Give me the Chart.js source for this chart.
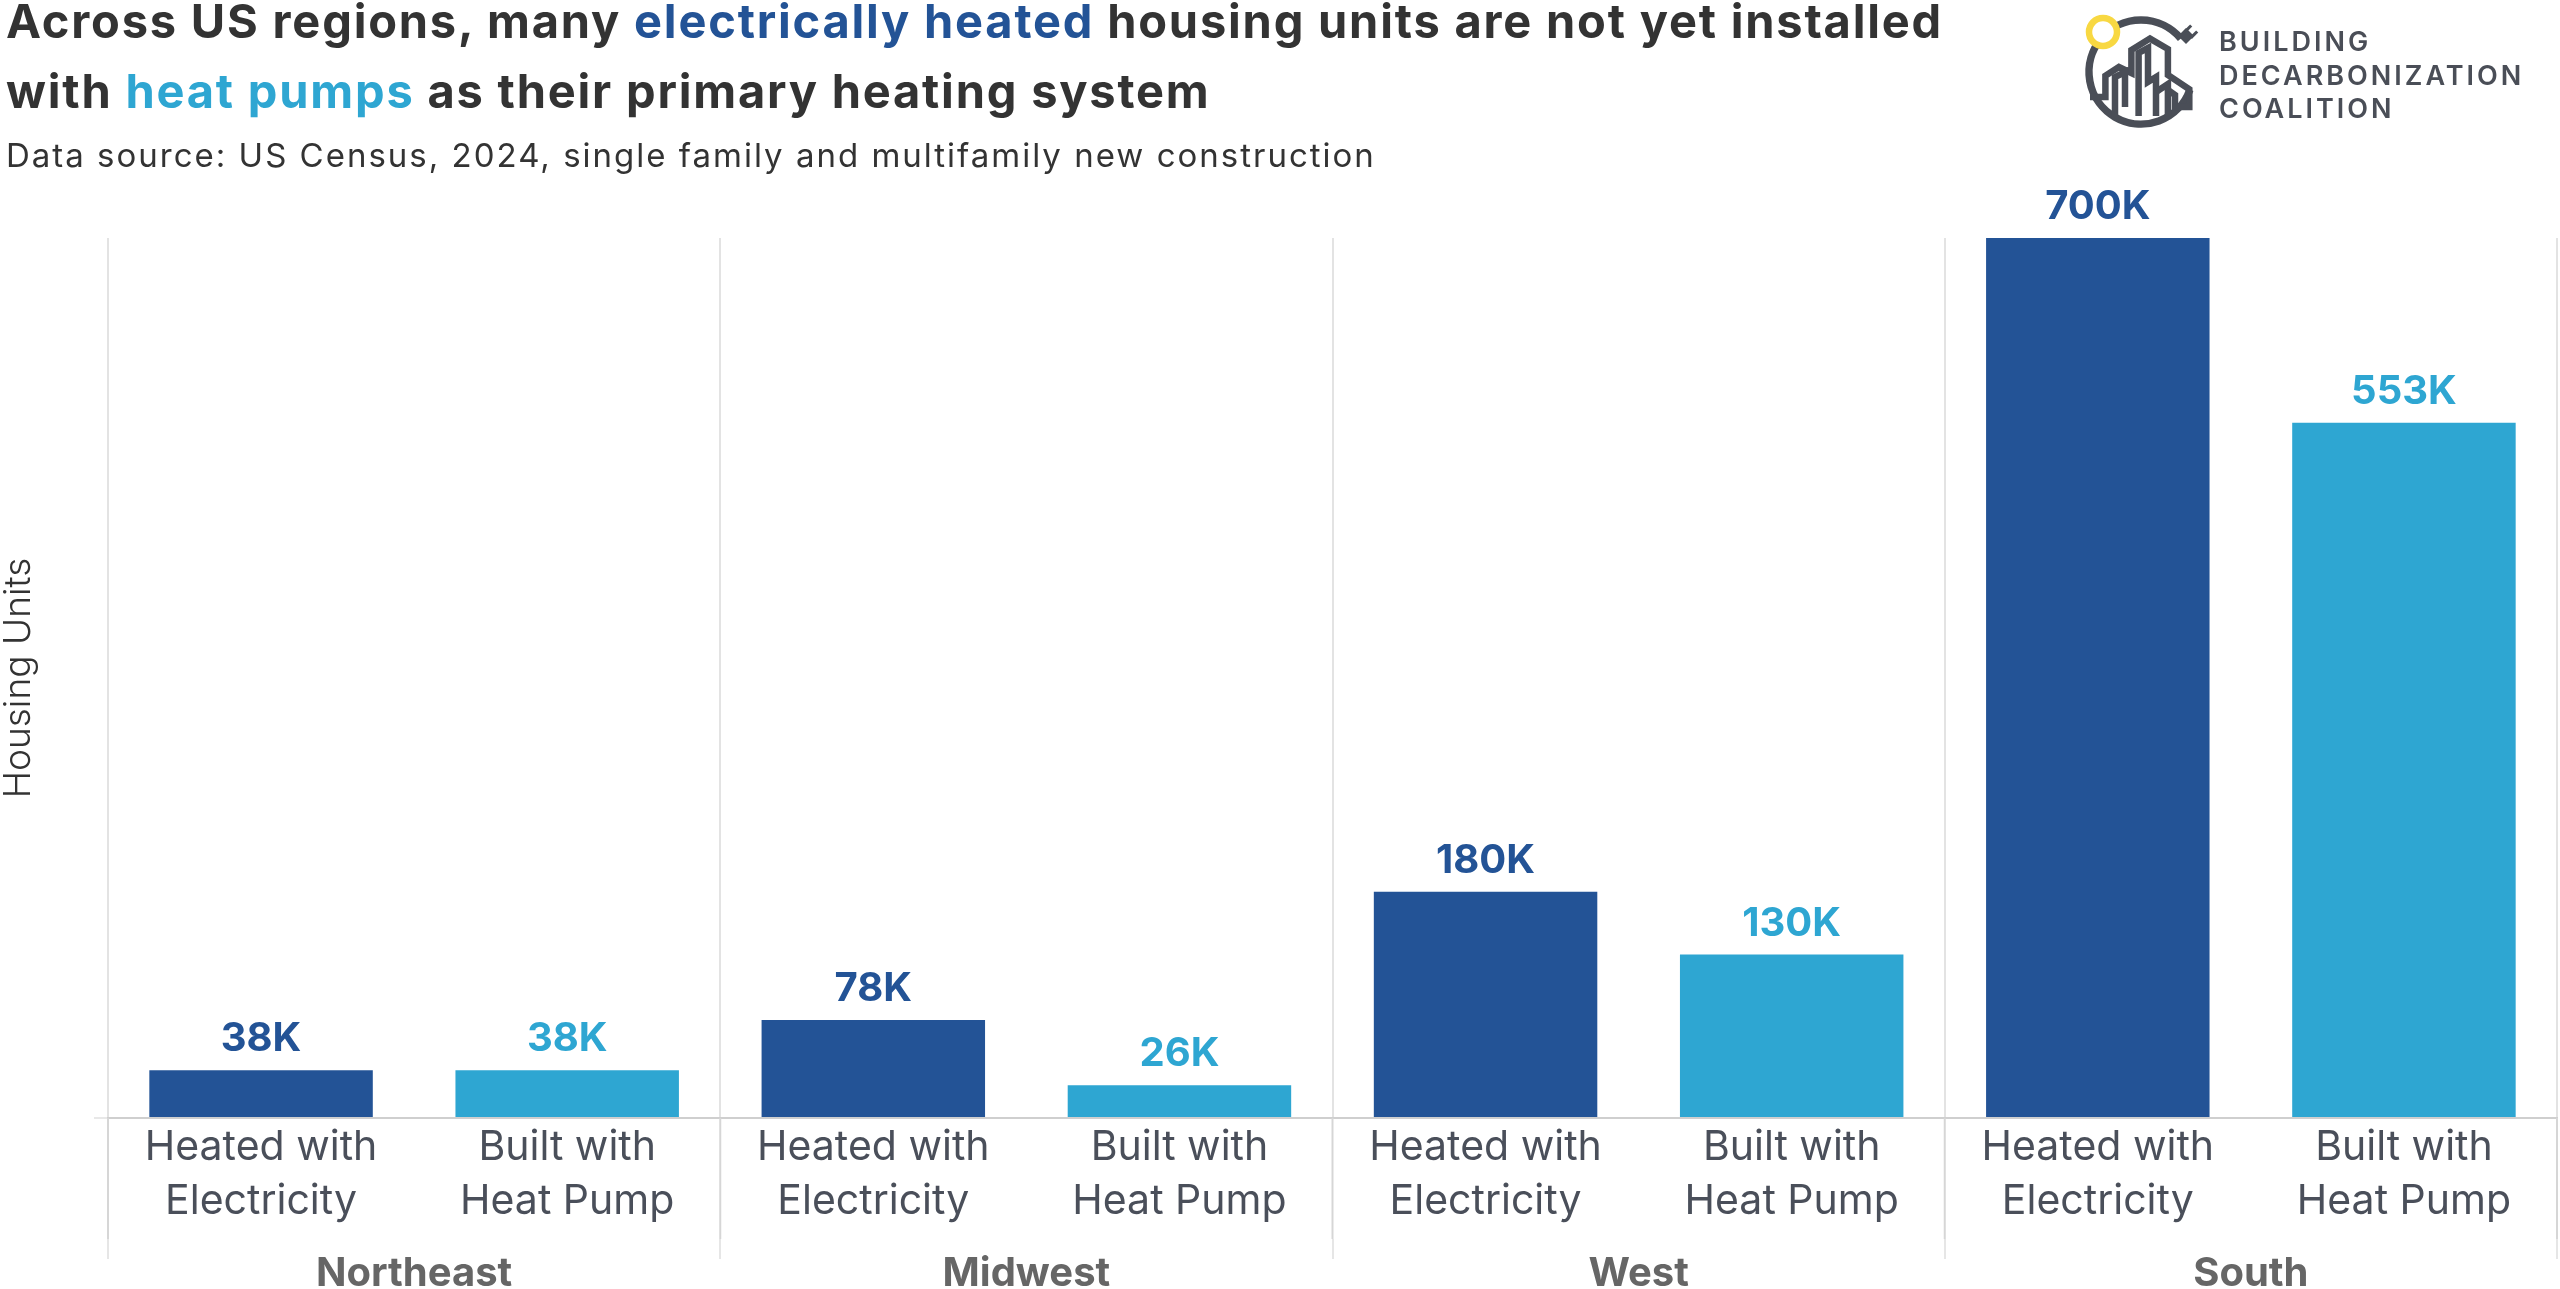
<!DOCTYPE html>
<html>
<head>
<meta charset="utf-8">
<script src="https://cdn.jsdelivr.net/npm/chart.js@4.4.1/dist/chart.umd.min.js"></script>
<style>
html,body{margin:0;padding:0;background:#fff;width:2560px;height:1289px;overflow:hidden;}
#wrap{position:relative;width:2560px;height:1289px;}
#chart{position:absolute;left:0;top:0;}
#title{position:absolute;left:6px;top:-14px;font-family:Inter,sans-serif;font-weight:700;font-size:47px;line-height:70px;color:#333333;white-space:nowrap;letter-spacing:1.8px;}
#title .dk{color:#235396;}
#title .lt{color:#2ea6d2;}
#subtitle{position:absolute;left:6px;top:135px;font-family:Inter,sans-serif;font-weight:400;font-size:33px;line-height:40px;color:#333333;white-space:nowrap;letter-spacing:2px;}
#logo{position:absolute;left:2070px;top:0px;}
#logotext{position:absolute;left:2219px;top:0px;font-family:Inter,sans-serif;font-weight:600;font-size:27px;letter-spacing:3px;color:#4a4e57;}
#logotext div{position:absolute;left:0;white-space:nowrap;line-height:30px;}
</style>
</head>
<body>
<div id="wrap">
<canvas id="chart" width="2560" height="1289"></canvas>
<div id="title">Across US regions, many <span class="dk">electrically heated</span> housing units are not yet installed<br>with <span class="lt">heat pumps</span> as their primary heating system</div>
<div id="subtitle">Data source: US Census, 2024, single family and multifamily new construction</div>
<svg id="logo" width="130" height="140" viewBox="0 0 130 140">
  <path d="M 119.9 89.8 A 52 52 0 1 1 110.8 38.6" fill="none" stroke="#4a4e57" stroke-width="7.5"/>
  <circle cx="33" cy="32" r="14" fill="#ffffff" stroke="#f8d842" stroke-width="6.5"/>
  <g fill="#4a4e57">
    <path d="M 108 36 l 8 -8 l 8 8 l -8 8 z"/>
    <rect x="117" y="24" width="3" height="9" transform="rotate(45 118 28)"/>
    <rect x="123" y="30" width="3" height="9" transform="rotate(45 124 34)"/>
  </g>
  <g fill="none" stroke="#4a4e57" stroke-width="6.5" stroke-linejoin="miter">
    <path d="M 20 97 H 35.4 V 75.7 L 48.9 67 L 61.4 73 V 50 L 80 38.6 L 97.9 49 V 75 L 119.3 89.3 V 107 H 105 V 95 L 97.9 90"/>
    <path d="M 45 116 V 77 L 55 72 V 107"/>
    <path d="M 68.6 116 V 53 L 78 48 V 82 L 86 77 V 116"/>
    <path d="M 86 92 L 97.9 84 V 116"/>
  </g>
</svg>
<div id="logotext">
  <div style="top:27px">BUILDING</div>
  <div style="top:61px">DECARBONIZATION</div>
  <div style="top:94px">COALITION</div>
</div>
</div>
<script>
// ---- data ----
const regions = ['Northeast', 'Midwest', 'West', 'South'];
const barTypes = [['Heated with', 'Electricity'], ['Built with', 'Heat Pump']];
const heatedWithElectricity = [38000, 78000, 180000, 700000];
const builtWithHeatPump = [38000, 26000, 130000, 553000];
const heatedLabels = ['38K', '78K', '180K', '700K'];
const heatPumpLabels = ['38K', '26K', '130K', '553K'];
const yAxisTitle = 'Housing Units';
const yMax = 700000;
const yStep = 155000;

const darkBlue = '#235396';
const lightBlue = '#2ea6d2';

// build interleaved categories from the arrays
const categories = [];
const values = [];
const colors = [];
const valueTexts = [];
regions.forEach((r, i) => {
  categories.push(barTypes[0]); values.push(heatedWithElectricity[i]); colors.push(darkBlue); valueTexts.push(heatedLabels[i]);
  categories.push(barTypes[1]); values.push(builtWithHeatPump[i]); colors.push(lightBlue); valueTexts.push(heatPumpLabels[i]);
});

const valueLabelPlugin = {
  id: 'valueLabels',
  afterDatasetsDraw(chart) {
    const ctx = chart.ctx;
    const meta = chart.getDatasetMeta(0);
    ctx.save();
    ctx.font = '700 40px Inter';
    ctx.textAlign = 'center';
    ctx.textBaseline = 'alphabetic';
    meta.data.forEach((bar, i) => {
      ctx.fillStyle = colors[i];
      ctx.fillText(valueTexts[i], bar.x, bar.y - 19);
    });
    ctx.restore();
  }
};

// extends the group separators through the category-label band of the x axis
const groupSeparatorPlugin = {
  id: 'groupSeparators',
  afterDraw(chart) {
    const xs = chart.scales.x;
    const ctx = chart.ctx;
    const n = categories.length;
    ctx.save();
    ctx.strokeStyle = '#d6d6d6';
    ctx.lineWidth = 2;
    for (let i = 0; i <= n; i += 2) {
      let px;
      if (i === 0) px = xs.left;
      else if (i === n) px = xs.right;
      else px = (xs.getPixelForValue(i - 1) + xs.getPixelForValue(i)) / 2;
      ctx.beginPath();
      ctx.moveTo(px, xs.top);
      ctx.lineTo(px, xs.bottom);
      ctx.stroke();
    }
    ctx.restore();
  }
};

const sepColor = (ctx) => (ctx.index === undefined || ctx.index % 2 === 0) ? '#e3e3e3' : 'rgba(0,0,0,0)';

new Chart(document.getElementById('chart'), {
  type: 'bar',
  data: {
    labels: categories,
    datasets: [{
      data: values,
      backgroundColor: colors,
      borderWidth: 0,
      barPercentage: 0.73,
      categoryPercentage: 1.0,
      xAxisID: 'x',
      yAxisID: 'y'
    }]
  },
  options: {
    responsive: false,
    animation: false,
    devicePixelRatio: 1,
    layout: { padding: { top: 238, right: 3, bottom: 0, left: 0 } },
    plugins: { legend: { display: false }, tooltip: { enabled: false }, title: { display: false } },
    scales: {
      y: {
        min: 0,
        max: yMax,
        position: 'left',
        afterBuildTicks: (scale) => { scale.ticks = scale.ticks.filter(t => t.value % yStep === 0); },
        ticks: { display: false, stepSize: yStep },
        grid: { drawOnChartArea: false, drawTicks: true, tickLength: 14, color: '#e8e8e8', lineWidth: 2 },
        border: { display: false },
        title: {
          display: true,
          text: yAxisTitle,
          color: '#333333',
          font: { family: 'Inter', size: 37, weight: '300', lineHeight: 1 },
          padding: { top: 0, bottom: 57 }
        }
      },
      x: {
        type: 'category',
        position: 'bottom',
        weight: 0,
        offset: true,
        grid: { offset: true, drawOnChartArea: true, drawTicks: true, tickLength: -7, color: sepColor, tickColor: sepColor, lineWidth: 2 },
        border: { display: true, color: '#cfcfcf', width: 2 },
        ticks: {
          padding: 10,
          maxRotation: 0,
          autoSkip: false,
          color: '#4a4f5a',
          font: { family: 'Inter', size: 41, weight: '400', lineHeight: 54 / 41 }
        }
      },
      x2: {
        type: 'category',
        position: 'bottom',
        weight: 1,
        labels: regions,
        offset: true,
        grid: { offset: true, drawOnChartArea: false, drawTicks: true, tickLength: 20, color: '#e6e6e6', lineWidth: 2 },
        border: { display: false },
        ticks: {
          padding: -1,
          maxRotation: 0,
          autoSkip: false,
          color: '#666666',
          font: { family: 'Inter', size: 40, weight: '700', lineHeight: 0.8 }
        }
      }
    }
  },
  plugins: [valueLabelPlugin, groupSeparatorPlugin]
});
</script>
</body>
</html>
